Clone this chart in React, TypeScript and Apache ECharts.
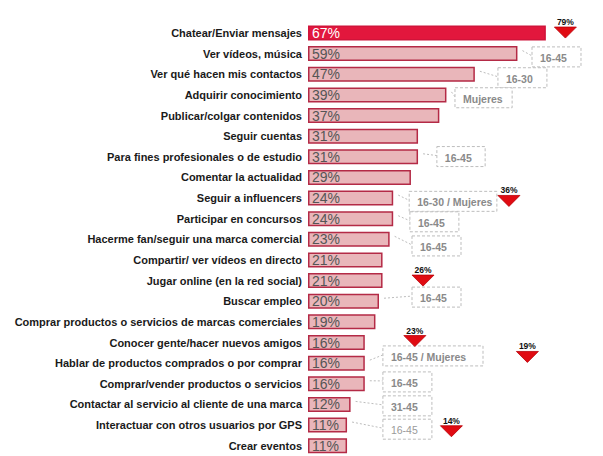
import React, { useEffect, useRef } from "react";
import * as echarts from "echarts";

const categories = [
  "Chatear/Enviar mensajes",
  "Ver vídeos, música",
  "Ver qué hacen mis contactos",
  "Adquirir conocimiento",
  "Publicar/colgar contenidos",
  "Seguir cuentas",
  "Para fines profesionales o de estudio",
  "Comentar la actualidad",
  "Seguir a influencers",
  "Participar en concursos",
  "Hacerme fan/seguir una marca comercial",
  "Compartir/ ver vídeos en directo",
  "Jugar online (en la red social)",
  "Buscar empleo",
  "Comprar productos o servicios de marcas comerciales",
  "Conocer gente/hacer nuevos amigos",
  "Hablar de productos comprados o por comprar",
  "Comprar/vender productos o servicios",
  "Contactar al servicio al cliente de una marca",
  "Interactuar con otros usuarios por GPS",
  "Crear eventos",
];
const values = [67, 59, 47, 39, 37, 31, 31, 29, 24, 24, 23, 21, 21, 20, 19, 16, 16, 16, 12, 11, 11];

// Segment boxes (profile with highest usage)
const boxLabels = ["16-45", "16-30", "Mujeres", "16-45", "16-30 / Mujeres", "16-45", "16-45", "16-45", "16-45 / Mujeres", "16-45", "31-45", "16-45"];
const boxRows = [1, 2, 3, 6, 8, 9, 10, 13, 16, 17, 18, 19];
// Box placement in axis units (x in %, y in rows)
const boxLeft = [63.1, 53.5, 41.4, 36.3, 28.5, 28.7, 29.3, 29.3, 21.1, 21.1, 21.1, 21.1];
const boxRight = [76.9, 67.3, 57.5, 49.9, 53.2, 42.5, 43.1, 43.1, 49.3, 34.9, 34.9, 34.9];
const boxY = [1.16, 2.17, 3.14, 5.99, 8.16, 9.15, 10.32, 12.8, 15.65, 16.91, 18.07, 19.2];

// Red arrows with peak value
const arrowLabels = ["79%", "36%", "26%", "23%", "19%", "14%"];
const arrowX = [72.5, 56.6, 32.4, 30.1, 61.8, 40.4];
const arrowY = [-0.02, 8.14, 12.0, 14.93, 15.7, 19.3];

export default function App() {
  const ref = useRef<HTMLDivElement>(null);
  useEffect(() => {
    if (!ref.current) return;
    const chart = echarts.init(ref.current, null, { renderer: "svg" });
    const font = "Arial, 'Liberation Sans', sans-serif";
    const boxData = boxLabels.map((_, i) => [boxLeft[i], boxY[i], boxRight[i], boxRows[i], values[boxRows[i]]]);
    const arrowData = arrowLabels.map((_, i) => [arrowX[i], arrowY[i]]);
    chart.setOption({
      animation: false,
      grid: { left: 308, right: 11, top: 22.65, bottom: -1.35, containLabel: false },
      xAxis: { type: "value", min: 0, max: 80, show: false },
      yAxis: [
        {
          type: "category",
          data: categories,
          inverse: true,
          axisLine: { show: false },
          axisTick: { show: false },
          splitLine: { show: false },
          axisLabel: {
            margin: 6,
            fontSize: 11,
            fontWeight: "bold",
            fontFamily: font,
            color: "#1a1a1a",
          },
        },
        { type: "value", min: -0.5, max: 20.5, inverse: true, show: false },
      ],
      series: [
        {
          type: "bar",
          yAxisIndex: 0,
          barWidth: 15,
          data: values.map((v, i) => ({
            value: v,
            itemStyle:
              i === 0
                ? { color: "#e2173d", borderColor: "#d0143a", borderWidth: 1.5 }
                : { color: "#e9b6ba", borderColor: "#b42a46", borderWidth: 1.5 },
            label: { color: i === 0 ? "#ffffff" : "#555555" },
          })),
          label: {
            show: true,
            position: "insideLeft",
            distance: 4,
            formatter: "{c}%",
            fontSize: 14,
            fontFamily: font,
          },
        },
        {
          type: "custom",
          yAxisIndex: 1,
          z: 5,
          data: boxData,
          renderItem: (params: any, api: any) => {
            const i = params.dataIndex;
            const p0 = api.coord([api.value(0), api.value(1)]);
            const p1 = api.coord([api.value(2), api.value(1)]);
            const end = api.coord([api.value(4), api.value(3)]);
            const h = 20;
            const light = i === boxLabels.length - 1;
            return {
              type: "group",
              children: [
                {
                  type: "line",
                  shape: { x1: end[0] + 5, y1: end[1] - 3, x2: p0[0], y2: p0[1] - 1 },
                  style: { stroke: "#bdbdbd", lineWidth: 1, lineDash: [2, 2] },
                },
                {
                  type: "rect",
                  shape: { x: p0[0], y: p0[1] - h / 2, width: p1[0] - p0[0], height: h },
                  style: { fill: "#ffffff", stroke: "#bdbdbd", lineWidth: 1, lineDash: [3, 2] },
                },
                {
                  type: "text",
                  x: p0[0] + 8,
                  y: p0[1] + 1,
                  style: {
                    text: boxLabels[i],
                    fontSize: 10.5,
                    fontWeight: light ? "normal" : "bold",
                    fontFamily: font,
                    fill: light ? "#9a9a9a" : "#8a8a8a",
                    verticalAlign: "middle",
                    textAlign: "left",
                  },
                },
              ],
            };
          },
        },
        {
          type: "custom",
          yAxisIndex: 1,
          z: 6,
          data: arrowData,
          renderItem: (params: any, api: any) => {
            const i = params.dataIndex;
            const c = api.coord([api.value(0), api.value(1)]);
            const w = 11;
            const hh = 5.5;
            return {
              type: "group",
              children: [
                {
                  type: "polygon",
                  shape: { points: [[c[0] - w, c[1] - hh], [c[0] + w, c[1] - hh], [c[0], c[1] + hh]] },
                  style: { fill: "#e00b12", stroke: "#b80008", lineWidth: 0.8 },
                },
                {
                  type: "text",
                  x: c[0],
                  y: c[1] - hh - 0.5,
                  style: {
                    text: arrowLabels[i],
                    fontSize: 8.5,
                    fontWeight: "bold",
                    fontFamily: font,
                    fill: "#111111",
                    textAlign: "center",
                    verticalAlign: "bottom",
                  },
                },
              ],
            };
          },
        },
      ],
    });
    return () => chart.dispose();
  }, []);
  return (
    <div
      ref={ref}
      style={{ position: "absolute", left: 0, top: 0, width: 603, height: 456, background: "#ffffff" }}
    />
  );
}
